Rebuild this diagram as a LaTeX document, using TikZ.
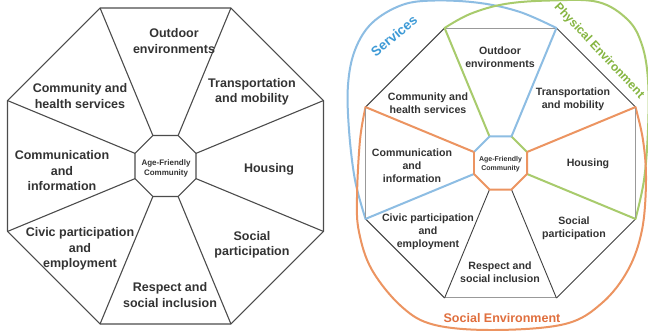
\documentclass[tikz,border=0pt]{standalone}
\usepackage{fontspec}
\setmainfont{Liberation Sans}
\usetikzlibrary{calc}
\definecolor{txt}{HTML}{333333}
\definecolor{svc}{HTML}{8DBDE3}
\definecolor{svct}{HTML}{3D9AD6}
\definecolor{phy}{HTML}{A8CB6C}
\definecolor{phyt}{HTML}{85B540}
\definecolor{soc}{HTML}{EC9461}
\definecolor{soct}{HTML}{E06F3E}
\tikzset{
  lline/.style={draw=black!70, line width=1.1pt, line join=round},
  ltext/.style={font=\fontsize{12.5}{15.5}\selectfont\bfseries, text=txt, align=center, inner sep=0pt},
  rtext/.style={font=\fontsize{10.6}{13}\selectfont\bfseries, text=txt, align=center, inner sep=0pt},
  lcore/.style={font=\fontsize{8}{10}\selectfont\bfseries, text=txt, align=center, inner sep=0pt},
  rcore/.style={font=\fontsize{7}{9}\selectfont\bfseries, text=txt, align=center, inner sep=0pt},
  edgelight/.style={draw=black!40, line width=1pt},
  edgedark/.style={draw=black!75, line width=0.9pt},
  svcline/.style={draw=svc, line width=2pt, line cap=round, line join=round},
  phyline/.style={draw=phy, line width=2pt, line cap=round, line join=round},
  socline/.style={draw=soc, line width=2pt, line cap=round, line join=round},
}
\begin{document}
\begin{tikzpicture}[x=1pt,y=-1pt]
\useasboundingbox (0,0) rectangle (648,331);
\fill[white] (0,0) rectangle (648,331);

% ---------- left octagon ----------
\coordinate (Lc) at (165.5,166);
\foreach \i in {0,...,7} {
  \coordinate (LO\i) at ($(Lc)+({22.5+45*\i}:171)$);
  \coordinate (LI\i) at ($(Lc)+({22.5+45*\i}:33)$);
}
\draw[lline] (LO0) -- (LO1) -- (LO2) -- (LO3) -- (LO4) -- (LO5) -- (LO6) -- (LO7) -- cycle;
\draw[lline] (LI0) -- (LI1) -- (LI2) -- (LI3) -- (LI4) -- (LI5) -- (LI6) -- (LI7) -- cycle;
\foreach \i in {0,...,7} { \draw[lline] (LI\i) -- (LO\i); }

\node[lcore] (lcore) at (166,168) {Age-Friendly\\Community};
\node[ltext] (lout) at (174,41) {Outdoor\\environments};
\node[ltext] (ltra) at (252,92) {Transportation\\and mobility};
\node[ltext] (lhou) at (269,169) {Housing};
\node[ltext] (lsoc) at (252,245) {Social\\participation};
\node[ltext] (lres) at (170,295) {Respect and\\social inclusion};
\node[ltext] (lciv) at (80,249) {Civic participation\\and\\employment};
\node[ltext] (lcom) at (62,171) {Communication\\and\\information};
\node[ltext] (lhea) at (80,96) {Community and\\health services};

% ---------- right octagon ----------
\coordinate (Rc) at (500.5,163);
\foreach \i in {0,...,7} {
  \coordinate (RO\i) at ($(Rc)+({22.5+45*\i}:146.1)$);
  \coordinate (RI\i) at ($(Rc)+({22.5+45*\i}:28.7)$);
}
% region outlines
\draw[svcline] plot[smooth, tension=0.6] coordinates {(RO3) (355,180) (349,130) (348,85) (355,50) (372,23) (402,5) (435,0.5) (480,3) (520,12) (RO6)};
\draw[phyline] plot[smooth, tension=0.6] coordinates {(RO5) (470,14) (505,4) (550,0.5) (598,2) (628,20) (642,45) (648,80) (648,130) (644,180) (RO0)};
\draw[socline] plot[smooth, tension=0.6] coordinates {(RO4) (360,140) (357,197) (359,232) (372,270) (402,307) (435,325) (495,330) (565,324) (602,303) (628,270) (642,230) (646,180) (643,140) (RO7)};

% outer edges
\draw[edgedark] (RO0) -- (RO1);
\draw[edgelight] (RO1) -- (RO2);
\draw[edgedark] (RO2) -- (RO3);
\draw[edgelight] (RO3) -- (RO4);
\draw[edgedark] (RO4) -- (RO5);
\draw[edgelight] (RO5) -- (RO6);
\draw[edgedark] (RO6) -- (RO7);
\draw[edgelight] (RO7) -- (RO0);
% spokes
\draw[edgedark] (RI1) -- (RO1);
\draw[edgedark] (RI2) -- (RO2);
\draw[phyline] (RI0) -- (RO0);
\draw[phyline] (RI5) -- (RO5);
\draw[svcline] (RI3) -- (RO3);
\draw[svcline] (RI6) -- (RO6);
\draw[socline] (RI4) -- (RO4);
\draw[socline] (RI7) -- (RO7);
% inner octagon
\draw[phyline] (RI6) -- (RI7);
\draw[svcline] (RI4) -- (RI5) -- (RI6);
\draw[socline] (RI3) -- (RI2) -- (RI1) -- (RI0) -- (RI7);
\draw[socline] (RI3) -- (RI4);

\node[rcore] (rcore) at (500.5,164) {Age-Friendly\\Community};
\node[rtext] (rout) at (500,57) {Outdoor\\environments};
\node[rtext] (rtra) at (573,99) {Transportation\\and mobility};
\node[rtext] (rhou) at (588,164) {Housing};
\node[rtext] (rsoc) at (574,228) {Social\\participation};
\node[rtext] (rres) at (500,272) {Respect and\\social inclusion};
\node[rtext] (rciv) at (428,232) {Civic participation\\and\\employment};
\node[rtext] (rcom) at (412,166) {Communication\\and\\information};
\node[rtext] (rhea) at (428,103) {Community and\\health services};

% region labels
\node[font=\fontsize{13.5}{16}\selectfont\bfseries, text=svct, rotate=40, inner sep=0pt] (lsvc) at (394,36) {Services};
\node[font=\fontsize{12}{14}\selectfont\bfseries, text=phyt, rotate=-47, inner sep=0pt] (lphy) at (599,51) {Physical Environment};
\node[font=\fontsize{12.5}{15}\selectfont\bfseries, text=soct, inner sep=0pt] (lsocenv) at (502,318) {Social Environment};
\end{tikzpicture}
\end{document}
